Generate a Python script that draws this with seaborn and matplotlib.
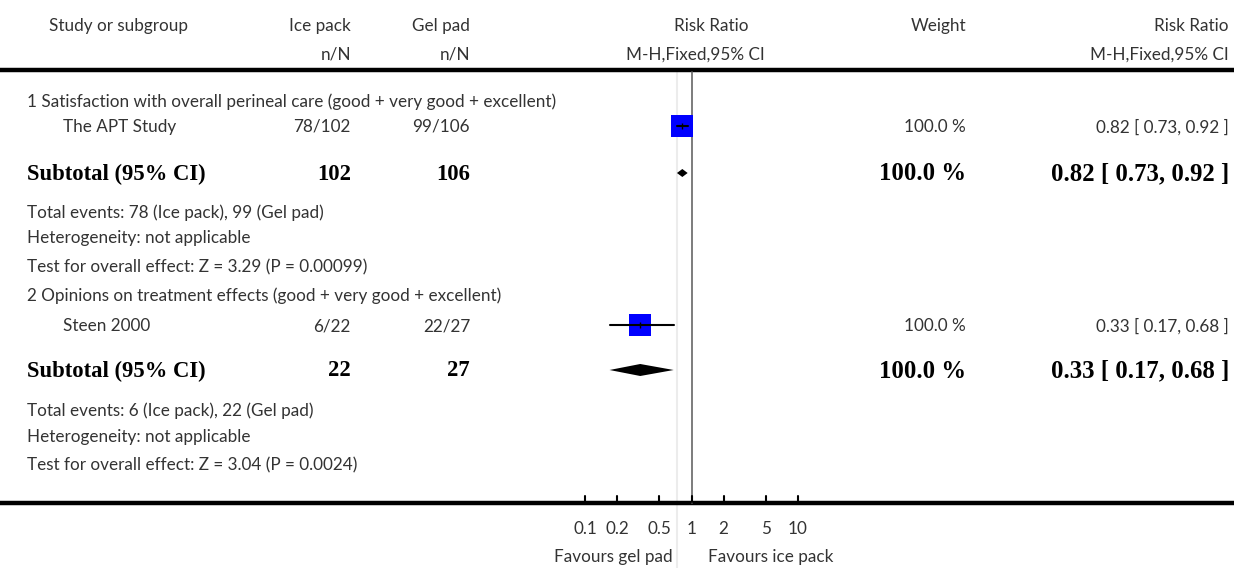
import numpy as np
import pandas as pd
from matplotlib import pyplot as plt
import seaborn as sb

# study rows
studies = ['The APT Study', 'Steen 2000']
ice_events = [78, 6]
ice_total = [102, 22]
gel_events = [99, 22]
gel_total = [106, 27]
rr = [0.82, 0.33]
rr_lo = [0.73, 0.17]
rr_hi = [0.92, 0.68]
weights = ['100.0 %', '100.0 %']

subgroups = ['1 Satisfaction with overall perineal care (good + very good + excellent)',
             '2 Opinions on treatment effects (good + very good + excellent)']
z_tests = ['Test for overall effect: Z = 3.29 (P = 0.00099)',
           'Test for overall effect: Z = 3.04 (P = 0.0024)']

tick_vals = [0.1, 0.2, 0.5, 1, 2, 5, 10]
tick_labels = ['0.1', '0.2', '0.5', '1', '2', '5', '10']

W, H = 1234, 568
PX0 = 691.5     # pixel of RR = 1
PXD = 106.5     # pixels per decade

def main():
    sb.set_style('white')
    plt.rcParams['font.family'] = ['Lato', 'DejaVu Sans']
    fig = plt.figure(figsize=(W / 100, H / 100), dpi=100)

    # text layer in pixel coordinates
    ax = fig.add_axes([0, 0, 1, 1])
    ax.set_xlim(0, W)
    ax.set_ylim(H, 0)
    ax.axis('off')

    # forest layer: log x, pixel y
    fx0, fx1 = 540, 840
    fax = fig.add_axes([fx0 / W, 0, (fx1 - fx0) / W, 1], sharey=ax)
    fax.set_xscale('log')
    fax.set_xlim(10 ** ((fx0 - PX0) / PXD), 10 ** ((fx1 - PX0) / PXD))
    fax.axis('off')
    fax.patch.set_alpha(0)

    col = '#333333'
    reg = dict(fontsize=12.3, color=col, va='center')
    bold = dict(fontsize=16.3, color='black', va='center', fontweight='bold',
                family='Liberation Serif')
    boldn = dict(bold, fontsize=17.8)

    # header
    ax.text(49, 26, 'Study or subgroup', ha='left', **reg)
    ax.text(351, 26, 'Ice pack', ha='right', **reg)
    ax.text(470, 26, 'Gel pad', ha='right', **reg)
    ax.text(351, 55, 'n/N', ha='right', **reg)
    ax.text(470, 55, 'n/N', ha='right', **reg)
    ax.text(711, 26, 'Risk Ratio', ha='center', **reg)
    ax.text(695, 55, 'M-H,Fixed,95% CI', ha='center', **reg)
    ax.text(966, 26, 'Weight', ha='right', **reg)
    ax.text(1229, 26, 'Risk Ratio', ha='right', **reg)
    ax.text(1229, 55, 'M-H,Fixed,95% CI', ha='right', **reg)

    ax.plot([0, W], [70, 70], color='black', lw=3.2, solid_capstyle='butt')
    ax.plot([0, W], [503, 503], color='black', lw=3.2, solid_capstyle='butt')
    ax.plot([677, 677], [72, H], color='#ececec', lw=1.5, zorder=0)

    # rows per subgroup (y pixel positions)
    head_y = [102, 296]
    study_y = [127, 326]
    sub_y = [173, 370]
    info_y = [(213, 238, 267), (411, 437, 465)]

    for i in range(2):
        ax.text(27, head_y[i], subgroups[i], ha='left', **reg)
        ax.text(63, study_y[i], studies[i], ha='left', **reg)
        ax.text(351, study_y[i], f'{ice_events[i]}/{ice_total[i]}', ha='right', **reg)
        ax.text(470, study_y[i], f'{gel_events[i]}/{gel_total[i]}', ha='right', **reg)
        ax.text(966, study_y[i], weights[i], ha='right', **reg)
        ci = f'{rr[i]:.2f} [ {rr_lo[i]:.2f}, {rr_hi[i]:.2f} ]'
        ax.text(1229, study_y[i], ci, ha='right', **reg)

        ax.text(27, sub_y[i] + 1, 'Subtotal (95% CI)', ha='left', **bold)
        ax.text(351, sub_y[i] + 1, str(ice_total[i]), ha='right', **bold)
        ax.text(470, sub_y[i] + 1, str(gel_total[i]), ha='right', **bold)
        ax.text(966, sub_y[i] + 1, weights[i], ha='right', **boldn)
        ax.text(1229, sub_y[i] + 1, ci, ha='right', **boldn)

        t1, t2, t3 = info_y[i]
        ax.text(27, t1, f'Total events: {ice_events[i]} (Ice pack), {gel_events[i]} (Gel pad)',
                ha='left', **reg)
        ax.text(27, t2, 'Heterogeneity: not applicable', ha='left', **reg)
        ax.text(27, t3, z_tests[i], ha='left', **reg)

        # CI line and diamond
        fax.plot([rr_lo[i], rr_hi[i]], [study_y[i] - 1] * 2, color='black', lw=1.5, zorder=3)
        h = 4 if i == 0 else 6
        fax.fill([rr_lo[i], rr[i], rr_hi[i], rr[i]],
                 [sub_y[i], sub_y[i] - h, sub_y[i], sub_y[i] + h], color='black', lw=0)

    df = pd.DataFrame({'rr': rr, 'y': [y - 1 for y in study_y]})
    sb.scatterplot(data=df, x='rr', y='y', marker='s', s=250, color='#0000ff',
                   edgecolor='none', ax=fax, zorder=2, legend=False)
    fax.plot(rr, [y - 1 for y in study_y], '|', color='black', ms=5, mew=1, zorder=4)

    # line of no effect and axis ticks
    fax.plot([1, 1], [72, 503], color='#666666', lw=1.2, zorder=1)
    for v, lab in zip(tick_vals, tick_labels):
        fax.plot([v, v], [496, 502], color='black', lw=1.5)
        fax.text(v, 529, lab, ha='center', **reg)
    fax.text(10 ** ((673 - PX0) / PXD), 557, 'Favours gel pad', ha='right', **reg)
    fax.text(10 ** ((708 - PX0) / PXD), 557, 'Favours ice pack', ha='left', **reg)

    fax.set_ylim(H, 0)
    fig.savefig('out.png', dpi=100)

if __name__ == '__main__':
    main()
